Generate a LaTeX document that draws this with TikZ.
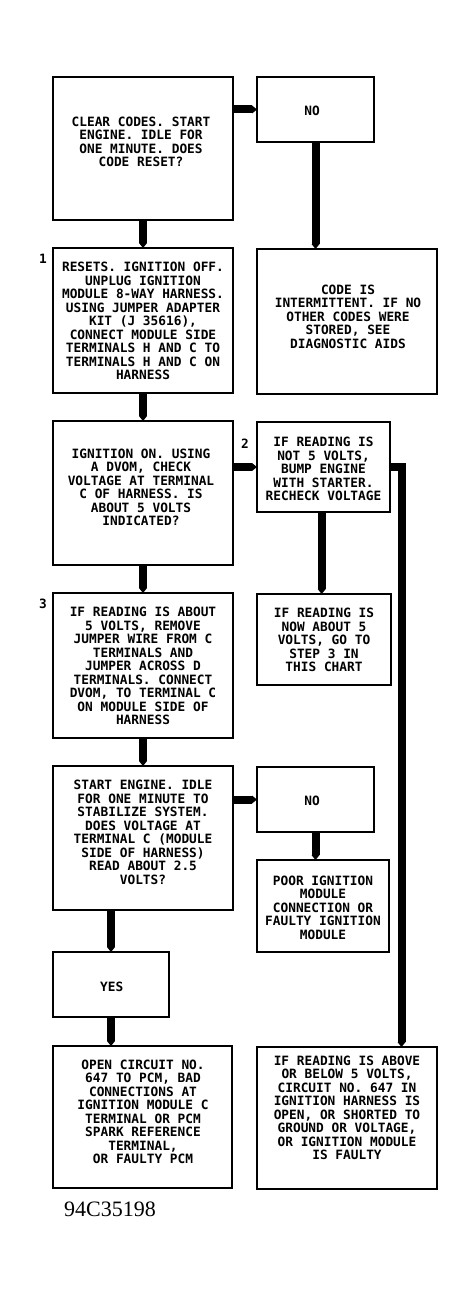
\documentclass[tikz,border=0pt]{standalone}
\usepackage{fontspec}
\setmainfont{Liberation Serif}
\newfontfamily\boxfont{DejaVu Sans Mono}
\usetikzlibrary{arrows.meta}
\tikzset{
  box/.style={draw, line width=1.8pt, inner sep=0pt, outer sep=0pt},
  txt/.style={inner sep=0pt, align=center, font=\boxfont\bfseries\fontsize{12.8pt}{13.5pt}\selectfont},
  num/.style={inner sep=0pt, font=\boxfont\bfseries\fontsize{12.8pt}{13.5pt}\selectfont},
  conn/.style={line width=8pt, line join=miter, -{Triangle[length=5pt 0,width=8pt 0,line width=0pt]}},
}
\begin{document}
\begin{tikzpicture}[x=1pt,y=-1pt]
\fill[white] (0,0) rectangle (476,1295);
\useasboundingbox (0,0) rectangle (476,1295);

% boxes
\node[box, minimum width=180pt, minimum height=143pt] (q1) at (143,148.5) {};
\node[box, minimum width=117pt, minimum height=65pt] (no1) at (315.5,109.5) {};
\node[box, minimum width=180pt, minimum height=145pt] (s1) at (143,320.5) {};
\node[box, minimum width=180pt, minimum height=145pt] (code) at (347,321.5) {};
\node[box, minimum width=180pt, minimum height=144pt] (s2) at (143,493) {};
\node[box, minimum width=133pt, minimum height=90pt] (bump) at (323.5,467) {};
\node[box, minimum width=180pt, minimum height=145pt] (s3) at (143,665.5) {};
\node[box, minimum width=134pt, minimum height=91pt] (now) at (324,639.5) {};
\node[box, minimum width=180pt, minimum height=144pt] (s4) at (143,838) {};
\node[box, minimum width=117pt, minimum height=65pt] (no2) at (315.5,799.5) {};
\node[box, minimum width=132pt, minimum height=92pt] (poor) at (323,906) {};
\node[box, minimum width=116pt, minimum height=65pt] (yes) at (111,984.5) {};
\node[box, minimum width=179pt, minimum height=142pt] (open) at (142.5,1117) {};
\node[box, minimum width=180pt, minimum height=142pt] (fault) at (347,1118) {};

% texts
\node[txt] (q1t) at (141,142) {CLEAR CODES. START\\ENGINE. IDLE FOR\\ONE MINUTE. DOES\\CODE RESET?};
\node[txt] (no1t) at (312,110.5) {NO};
\node[txt] (s1t) at (143,321) {RESETS. IGNITION OFF.\\UNPLUG IGNITION\\MODULE 8-WAY HARNESS.\\USING JUMPER ADAPTER\\KIT (J 35616),\\CONNECT MODULE SIDE\\TERMINALS H AND C TO\\TERMINALS H AND C ON\\HARNESS};
\node[txt] (codet) at (348,316.7) {CODE IS\\INTERMITTENT. IF NO\\OTHER CODES WERE\\STORED, SEE\\DIAGNOSTIC AIDS};
\node[txt] (s2t) at (141,487.5) {IGNITION ON. USING\\A DVOM, CHECK\\VOLTAGE AT TERMINAL\\C OF HARNESS. IS\\ABOUT 5 VOLTS\\INDICATED?};
\node[txt] (bumpt) at (323.5,469) {IF READING IS\\NOT 5 VOLTS,\\BUMP ENGINE\\WITH STARTER.\\RECHECK VOLTAGE};
\node[txt] (s3t) at (143,666) {IF READING IS ABOUT\\5 VOLTS, REMOVE\\JUMPER WIRE FROM C\\TERMINALS AND\\JUMPER ACROSS D\\TERMINALS. CONNECT\\DVOM, TO TERMINAL C\\ON MODULE SIDE OF\\HARNESS};
\node[txt] (nowt) at (324,640) {IF READING IS\\NOW ABOUT 5\\VOLTS, GO TO\\STEP 3 IN\\THIS CHART};
\node[txt] (s4t) at (143,832.5) {START ENGINE. IDLE\\FOR ONE MINUTE TO\\STABILIZE SYSTEM.\\DOES VOLTAGE AT\\TERMINAL C (MODULE\\SIDE OF HARNESS)\\READ ABOUT 2.5\\VOLTS?};
\node[txt] (no2t) at (312,801) {NO};
\node[txt] (poort) at (323,907.5) {POOR IGNITION\\MODULE\\CONNECTION OR\\FAULTY IGNITION\\MODULE};
\node[txt] (yest) at (111.7,986.7) {YES};
\node[txt] (opent) at (143,1111.7) {OPEN CIRCUIT NO.\\647 TO PCM, BAD\\CONNECTIONS AT\\IGNITION MODULE C\\TERMINAL OR PCM\\SPARK REFERENCE\\TERMINAL,\\OR FAULTY PCM};
\node[txt] (faultt) at (347,1107.6) {IF READING IS ABOVE\\OR BELOW 5 VOLTS,\\CIRCUIT NO. 647 IN\\IGNITION HARNESS IS\\OPEN, OR SHORTED TO\\GROUND OR VOLTAGE,\\OR IGNITION MODULE\\IS FAULTY};

% step numbers
\node[num] (n1) at (43,259) {1};
\node[num] (n2) at (245,444) {2};
\node[num] (n3) at (43,604) {3};

% caption
\node[anchor=base west, inner sep=0pt, font=\fontsize{22pt}{24pt}\selectfont] (cap) at (64,1216.7) {94C35198};

% connectors
\coordinate (rail) at (401.5,467);
\draw[conn] (q1.east |- no1.west) -- (no1.west);
\draw[conn] (no1.south) -- (no1.south |- code.north);
\draw[conn] (q1.south) -- (s1.north);
\draw[conn] (s1.south) -- (s2.north);
\draw[conn] (s2.east |- bump.west) -- (bump.west);
\draw[conn] (bump.south -| 321.7,0) -- (now.north -| 321.7,0);
\draw[conn] (bump.east) -- (rail) -- (rail |- fault.north);
\draw[conn] (s2.south) -- (s3.north);
\draw[conn] (s3.south) -- (s4.north);
\draw[conn] (s4.east |- no2.west) -- (no2.west);
\draw[conn] (no2.south) -- (no2.south |- poor.north);
\draw[conn] (yes.north |- s4.south) -- (yes.north);
\draw[conn] (yes.south) -- (yes.south |- open.north);
\end{tikzpicture}
\end{document}
